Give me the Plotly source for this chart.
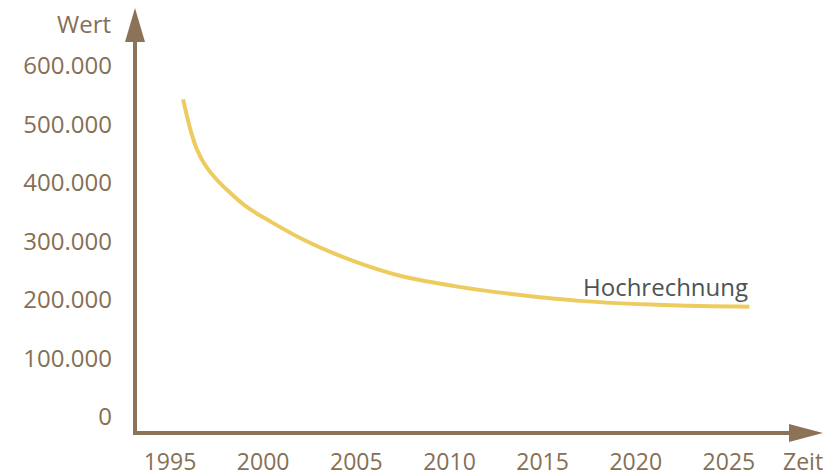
import plotly.graph_objects as go

# Data
years = [1995.7, 1995.9, 1996.13, 1996.43, 1996.84, 1997.38, 1998.0, 1999.1, 2000.4, 2002.2, 2004.0, 2005.7, 2007.4, 2010.6, 2013.8, 2017.0, 2021.5, 2026.1]
values = [543000, 515700, 487200, 458600, 433000, 410300, 390000, 359500, 334000, 302500, 277000, 257000, 241000, 222000, 208500, 198500, 191500, 188500]
series_label = "Hochrechnung"

x_ticks = [1995, 2000, 2005, 2010, 2015, 2020, 2025]
x_ticktext = ["1995", "2000", "2005", "2010", "2015", "2020", "2025"]
y_ticks = [0, 100000, 200000, 300000, 400000, 500000, 600000]
y_ticktext = ["0", "100.000", "200.000", "300.000", "400.000", "500.000", "600.000"]
x_title = "Zeit"
y_title = "Wert"

AXIS = "#8C7256"
LABEL = "#866F55"
CURVE = "#EECB5F"
TEXT = "#4B5454"
FONT = "Open Sans"
FS = 24
FS_X = 23

# page body has an 8px margin, so the figure is offset by 8px
W, H = 830, 474
L, R, T, B = 127, 15, 0, 49
PW, PH = W - L - R, H - T - B

x_range = [1993.12, 2030.05]
y_range = [-27350, 699150]

fig = go.Figure()
fig.add_trace(go.Scatter(
    x=years, y=values, mode="lines",
    line=dict(color=CURVE, width=4, shape="spline", smoothing=1.0),
    hoverinfo="skip", showlegend=False,
))


def px_x(p):
    return p / PW


def px_y(p):
    return p / PH


shapes = []
# y axis line (up to arrow base)
shapes.append(dict(type="line", xref="paper", yref="paper", x0=0, x1=0, y0=-px_y(2), y1=1 - px_y(32),
                   line=dict(color=AXIS, width=4)))
# x axis line
shapes.append(dict(type="line", xref="paper", yref="paper", x0=-px_x(2), x1=1 - px_x(32), y0=0, y1=0,
                   line=dict(color=AXIS, width=4)))
# up arrow head
shapes.append(dict(type="path", xref="paper", yref="paper",
                   path=f"M {-px_x(10)},{1 - px_y(34)} L {px_x(10)},{1 - px_y(34)} L 0,1 Z",
                   fillcolor=AXIS, line=dict(color=AXIS, width=0)))
# right arrow head
shapes.append(dict(type="path", xref="paper", yref="paper",
                   path=f"M {1 - px_x(34)},{-px_y(9)} L {1 - px_x(34)},{px_y(9)} L 1,0 Z",
                   fillcolor=AXIS, line=dict(color=AXIS, width=0)))

annotations = [
    dict(x=years[-1], y=values[-1], xref="x", yref="y", text=series_label, showarrow=False,
         xanchor="right", yanchor="middle", yshift=20, xshift=1,
         font=dict(family=FONT, size=FS, color=TEXT)),
    dict(x=0, y=1, xref="paper", yref="paper", text=y_title, showarrow=False,
         xanchor="right", yanchor="middle", xshift=-22, yshift=-15,
         font=dict(family=FONT, size=FS, color=LABEL)),
    dict(x=1, y=0, xref="paper", yref="paper", text=x_title, showarrow=False,
         xanchor="right", yanchor="middle", xshift=2, yshift=-28,
         font=dict(family=FONT, size=FS_X, color=LABEL)),
]

fig.update_layout(
    width=W, height=H,
    margin=dict(l=L, r=R, t=T, b=B, pad=0, autoexpand=False),
    paper_bgcolor="white", plot_bgcolor="white",
    font=dict(family=FONT, size=FS, color=LABEL),
    shapes=shapes, annotations=annotations,
    xaxis=dict(range=x_range, tickvals=x_ticks, ticktext=x_ticktext, showgrid=False,
               zeroline=False, showline=False, ticks="", ticklabelstandoff=13, automargin=False,
               tickfont=dict(family=FONT, size=FS_X, color=LABEL), fixedrange=True),
    yaxis=dict(range=y_range, tickvals=y_ticks, ticktext=y_ticktext, showgrid=False,
               zeroline=False, showline=False, ticks="", ticklabelstandoff=22, automargin=False,
               tickfont=dict(family=FONT, size=FS, color=LABEL), fixedrange=True),
    showlegend=False,
)

fig.write_html("out.html")
